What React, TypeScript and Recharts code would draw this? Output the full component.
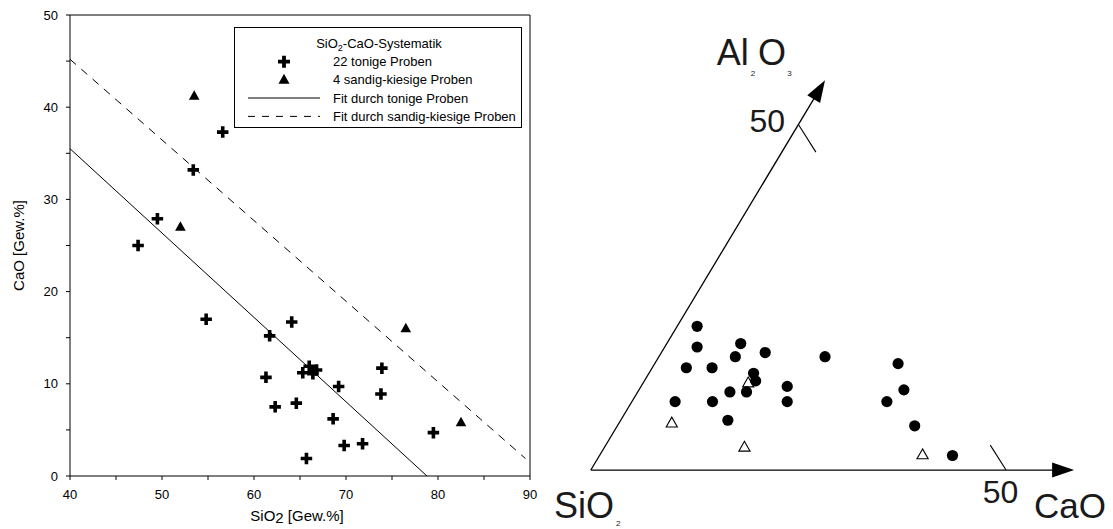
import React from 'react';
import {
  ScatterChart,
  Scatter,
  XAxis,
  YAxis,
  ReferenceLine,
  ReferenceDot,
  Label,
} from 'recharts';

// ---------- SiO2 / CaO scatter (wt.%) ----------
const claySiO2 = [47.4, 49.5, 53.4, 56.6, 54.8, 64.1, 61.7, 61.3, 62.3, 64.6, 65.3, 66.0, 66.4, 66.8, 65.7, 68.6, 69.2, 69.8, 71.8, 73.8, 73.9, 79.5];
const clayCaO = [25.0, 27.9, 33.2, 37.3, 17.0, 16.7, 15.2, 10.7, 7.5, 7.9, 11.2, 11.9, 11.1, 11.5, 1.9, 6.2, 9.7, 3.3, 3.5, 8.9, 11.7, 4.7];
const sandSiO2 = [53.5, 52.0, 76.5, 82.5];
const sandCaO = [41.2, 27.0, 16.0, 5.8];

// regression lines (end points)
const clayFitSiO2 = [40, 78.8];
const clayFitCaO = [35.5, 0];
const sandFitSiO2 = [40, 89.5];
const sandFitCaO = [45.2, 1.9];

const xTicks = [40, 45, 50, 55, 60, 65, 70, 75, 80, 85, 90];
const yTicks = [0, 5, 10, 15, 20, 25, 30, 35, 40, 45, 50];
const xDomain = [40, 90];
const yDomain = [0, 50];
// the top and right frame lines carry six evenly spaced marks
const frameDivisions = 6;
const frameXTicks = Array.from({ length: frameDivisions + 1 }, (_, k) => xDomain[0] + (k * (xDomain[1] - xDomain[0])) / frameDivisions);
const frameYTicks = Array.from({ length: frameDivisions + 1 }, (_, k) => yDomain[0] + (k * (yDomain[1] - yDomain[0])) / frameDivisions);

const legendTitle = 'SiO2-CaO-Systematik';
const legendLabels = [
  '22 tonige Proben',
  '4 sandig-kiesige Proben',
  'Fit durch tonige Proben',
  'Fit durch sandig-kiesige Proben',
];

// ---------- ternary SiO2 - CaO - Al2O3 (normalised %) ----------
const ternClayCaO = [2.4, 3.9, 8.9, 9.2, 12.5, 20.0, 4.1, 7.2, 12.6, 13.4, 11.1, 13.1, 17.6, 18.7, 5.2, 9.7, 12.9, 29.3, 31.9, 30.7, 35.8, 42.5];
const ternClayAl2O3 = [20.8, 17.8, 18.3, 16.4, 17.0, 16.4, 14.8, 14.8, 14.0, 12.9, 11.3, 11.3, 12.1, 9.9, 9.9, 9.9, 7.2, 15.4, 11.6, 9.9, 6.4, 2.1];
const ternSandCaO = [12.6, 6.3, 16.8, 38.8];
const ternSandAl2O3 = [12.7, 6.9, 3.4, 2.3];

const caoArrowEnd = 58.2;
const alArrowEnd = 56.4;
const scaleMark = 50;

const FONT = '"Liberation Sans", Arial, Helvetica, sans-serif';
const SQ3 = Math.sqrt(3) / 2;

const toXY = (cao: number, al: number) => ({ x: cao + al / 2, y: al * SQ3 });

const clayData = claySiO2.map((x, i) => ({ x, y: clayCaO[i] }));
const sandData = sandSiO2.map((x, i) => ({ x, y: sandCaO[i] }));
const clayFit = clayFitSiO2.map((x, i) => ({ x, y: clayFitCaO[i] }));
const sandFit = sandFitSiO2.map((x, i) => ({ x, y: sandFitCaO[i] }));

const ternClay = ternClayCaO.map((c, i) => toXY(c, ternClayAl2O3[i]));
const ternSand = ternSandCaO.map((c, i) => toXY(c, ternSandAl2O3[i]));

// ---------- marker shapes ----------
const crossPath = (cx: number, cy: number, s: number, t: number) => {
  const h = s / 2;
  const w = t / 2;
  return `M${cx - w},${cy - h}H${cx + w}V${cy - w}H${cx + h}V${cy + w}H${cx + w}V${cy + h}H${cx - w}V${cy + w}H${cx - h}V${cy - w}H${cx - w}Z`;
};

const CrossShape = (p: any) => <path d={crossPath(p.cx, p.cy, 11.5, 3.6)} fill="#000" />;

const TriShape = (p: any) => (
  <polygon
    points={`${p.cx},${p.cy - 5.8} ${p.cx - 5.3},${p.cy + 3.7} ${p.cx + 5.3},${p.cy + 3.7}`}
    fill="#000"
  />
);

const DotShape = (p: any) => <circle cx={p.cx} cy={p.cy} r={5.6} fill="#000" />;

const OpenTriShape = (p: any) => (
  <polygon
    points={`${p.cx},${p.cy - 5.2} ${p.cx - 5.6},${p.cy + 4.6} ${p.cx + 5.6},${p.cy + 4.6}`}
    fill="#fff"
    stroke="#000"
    strokeWidth={1.1}
  />
);

const NoShape = () => <g />;

// ---------- axis labels ----------
const XTitle = (props: any) => {
  const vb = props.viewBox;
  return (
    <text x={vb.x + vb.width / 2 - 3} y={521} textAnchor="middle" fontSize={15} fontFamily={FONT} fill="#000">
      SiO<tspan dy={2}>2</tspan>
      <tspan dy={-2}> [Gew.%]</tspan>
    </text>
  );
};

const YTitle = (props: any) => {
  const vb = props.viewBox;
  const x = 23.5;
  const y = vb.y + vb.height / 2;
  return (
    <text x={x} y={y} transform={`rotate(-90 ${x} ${y})`} textAnchor="middle" fontSize={15} fontFamily={FONT} fill="#000">
      CaO [Gew.%]
    </text>
  );
};

const tickStyle = { fill: '#000', fontSize: 13, fontFamily: FONT };
const majorOnly = (v: number) => (v % 10 === 0 ? String(v) : '');

// ---------- legend box ----------
const LegendBox = () => {
  const rows = [61.7, 79.7, 98, 116.4].map((r) => r - 27);
  const symX = 284 - 234;
  const textX = 333 - 234;
  return (
    <svg width={289} height={102} style={{ position: 'absolute', left: 234, top: 27 }}>
      <rect x={0.5} y={0.5} width={287} height={100} fill="#fff" stroke="#000" strokeWidth={1} />
      <text x={379 - 234} y={43.2 - 27 + 4.6} textAnchor="middle" fontSize={13} fontFamily={FONT} fill="#000">
        {legendTitle.slice(0, 3)}
        <tspan fontSize={9} dy={3}>{legendTitle.slice(3, 4)}</tspan>
        <tspan dy={-3}>{legendTitle.slice(4)}</tspan>
      </text>
      <path d={crossPath(symX, rows[0], 12, 3.8)} fill="#000" />
      <polygon points={`${symX},${rows[1] - 6} ${symX - 5.5},${rows[1] + 4} ${symX + 5.5},${rows[1] + 4}`} fill="#000" />
      <line x1={248 - 234} x2={320 - 234} y1={rows[2]} y2={rows[2]} stroke="#000" strokeWidth={1} />
      <line x1={248 - 234} x2={320 - 234} y1={rows[3]} y2={rows[3]} stroke="#000" strokeWidth={1} strokeDasharray="7 7" />
      {legendLabels.map((t, i) => (
        <text key={t} x={textX} y={rows[i] + 4.6} fontSize={13} fontFamily={FONT} fill="#000">
          {t}
        </text>
      ))}
    </svg>
  );
};

// ---------- ternary helpers ----------
const ArrowShape = (p: any) => {
  const { x1, y1, x2, y2 } = p;
  const dx = x2 - x1;
  const dy = y2 - y1;
  const len = Math.hypot(dx, dy);
  const ux = dx / len;
  const uy = dy / len;
  const hl = 22;
  const hw = 7.5;
  const bx = x2 - ux * hl;
  const by = y2 - uy * hl;
  const nx = -uy;
  const ny = ux;
  return (
    <g>
      <line x1={x1} y1={y1} x2={bx + ux * 2} y2={by + uy * 2} stroke="#000" strokeWidth={1.3} />
      <polygon points={`${x2},${y2} ${bx + nx * hw},${by + ny * hw} ${bx - nx * hw},${by - ny * hw}`} fill="#000" />
    </g>
  );
};

const textShape = (parts: { t: string; dx: number; dy: number; size: number }[], anchor: 'start' | 'end' = 'start') =>
  (p: any) => (
    <g>
      {parts.map((s, i) => (
        <text key={i} x={p.cx + s.dx} y={p.cy + s.dy} fontSize={s.size} fontFamily={FONT} fill="#1a1a1a" textAnchor={anchor}>
          {s.t}
        </text>
      ))}
    </g>
  );

const origin = toXY(0, 0);
const caoEnd = toXY(caoArrowEnd, 0);
const alEnd = toXY(0, alArrowEnd);
const caoMark = toXY(scaleMark, 0);
const caoMarkEnd = toXY(46.3, 3.6);
const alMark = toXY(0, scaleMark);
const alMarkEnd = toXY(4.1, 46.0);

export default function App() {
  return (
    <div style={{ position: 'absolute', left: 0, top: 0, width: 1113, height: 529, background: '#fff', overflow: 'hidden' }}>
      <div style={{ position: 'absolute', left: 0, top: 0 }}>
        <ScatterChart width={560} height={529} margin={{ top: 14, right: 29, bottom: 0, left: 0 }}>
          <XAxis
            dataKey="x"
            type="number"
            domain={xDomain}
            allowDataOverflow
            ticks={xTicks}
            interval={0}
            tickFormatter={majorOnly}
            tick={tickStyle}
            tickSize={4}
            tickMargin={10}
            height={53}
            axisLine={{ stroke: '#000' }}
            tickLine={{ stroke: '#000' }}
            label={<Label content={XTitle} />}
          />
          <YAxis
            dataKey="y"
            type="number"
            domain={yDomain}
            allowDataOverflow
            ticks={yTicks}
            interval={0}
            tickFormatter={majorOnly}
            tick={tickStyle}
            tickSize={4}
            tickMargin={8}
            width={70}
            axisLine={{ stroke: '#000' }}
            tickLine={{ stroke: '#000' }}
            label={<Label content={YTitle} />}
          />
          <XAxis
            xAxisId="frame"
            orientation="top"
            dataKey="x"
            type="number"
            domain={xDomain}
            allowDataOverflow
            ticks={frameXTicks}
            interval={0}
            tick={false}
            tickSize={4}
            height={1}
            axisLine={{ stroke: '#000' }}
            tickLine={{ stroke: '#000' }}
          />
          <YAxis
            yAxisId="frame"
            orientation="right"
            dataKey="y"
            type="number"
            domain={yDomain}
            allowDataOverflow
            ticks={frameYTicks}
            interval={0}
            tick={false}
            tickSize={4}
            width={1}
            axisLine={{ stroke: '#000' }}
            tickLine={{ stroke: '#000' }}
          />
          <Scatter
            name="Fit durch tonige Proben"
            data={clayFit}
            line={{ stroke: '#000', strokeWidth: 1 }}
            shape={NoShape}
            isAnimationActive={false}
          />
          <Scatter
            name="Fit durch sandig-kiesige Proben"
            xAxisId="frame"
            yAxisId="frame"
            data={sandFit}
            line={{ stroke: '#000', strokeWidth: 1, strokeDasharray: '8 7' }}
            shape={NoShape}
            isAnimationActive={false}
          />
          <Scatter name="22 tonige Proben" data={clayData} shape={CrossShape} isAnimationActive={false} />
          <Scatter name="4 sandig-kiesige Proben" data={sandData} shape={TriShape} isAnimationActive={false} />
        </ScatterChart>
        <LegendBox />
      </div>

      <div style={{ position: 'absolute', left: 541, top: 0 }}>
        <ScatterChart width={572} height={529} margin={{ top: 0, right: 0, bottom: 0, left: 0 }}>
          <XAxis dataKey="x" type="number" domain={[-6, 62.88]} hide allowDataOverflow />
          <YAxis dataKey="y" type="number" domain={[-7.39, 58.9]} hide allowDataOverflow />
          <ReferenceLine segment={[origin, caoEnd]} shape={ArrowShape} ifOverflow="visible" />
          <ReferenceLine segment={[origin, alEnd]} shape={ArrowShape} ifOverflow="visible" />
          <ReferenceLine segment={[caoMark, caoMarkEnd]} stroke="#000" strokeWidth={1.1} ifOverflow="visible" />
          <ReferenceLine segment={[alMark, alMarkEnd]} stroke="#000" strokeWidth={1.1} ifOverflow="visible" />
          <Scatter name="sandig-kiesige Proben" data={ternSand} shape={OpenTriShape} isAnimationActive={false} />
          <Scatter name="tonige Proben" data={ternClay} shape={DotShape} isAnimationActive={false} />
          <ReferenceDot
            x={15.17}
            y={50.75}
            r={0}
            ifOverflow="visible"
            shape={textShape([
              { t: 'Al', dx: 0, dy: 0, size: 36 },
              { t: '2', dx: 34, dy: 11, size: 8 },
              { t: 'O', dx: 41.3, dy: 0, size: 36 },
              { t: '3', dx: 70.5, dy: 11, size: 8 },
            ])}
          />
          <ReferenceDot x={23.39} y={42.39} r={0} ifOverflow="visible" shape={textShape([{ t: '50', dx: 0, dy: 0, size: 32 }], 'end')} />
          <ReferenceDot x={47.19} y={-4.17} r={0} ifOverflow="visible" shape={textShape([{ t: '50', dx: 0, dy: 0, size: 32 }])} />
          <ReferenceDot x={53.37} y={-6.05} r={0} ifOverflow="visible" shape={textShape([{ t: 'CaO', dx: 0, dy: 0, size: 35 }])} />
          <ReferenceDot
            x={-4.42}
            y={-6.05}
            r={0}
            ifOverflow="visible"
            shape={textShape([
              { t: 'SiO', dx: 0, dy: 0, size: 36 },
              { t: '2', dx: 62, dy: 8, size: 8 },
            ])}
          />
        </ScatterChart>
      </div>
    </div>
  );
}
